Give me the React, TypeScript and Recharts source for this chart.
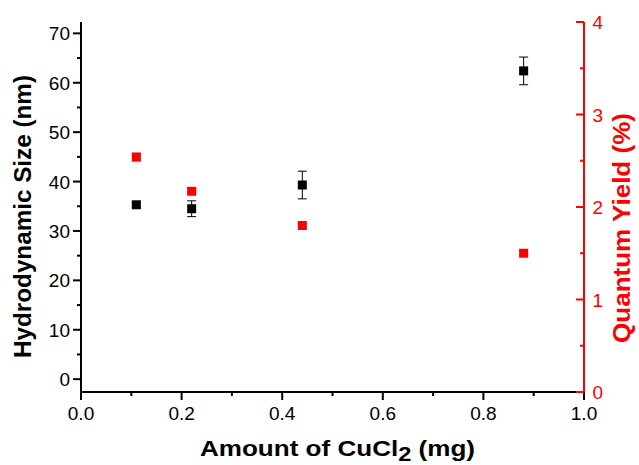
import React from "react";
import { ComposedChart, Scatter, XAxis, YAxis, ErrorBar } from "recharts";

// ---- data ----
const amounts = [0.11, 0.22, 0.44, 0.88];
const hydroSize = [35.3, 34.5, 39.3, 62.4];
const hydroErr = [0.6, 1.6, 2.8, 2.8];
const quantumYield = [2.54, 2.17, 1.8, 1.5];
const quantumErr = [0.04, 0.03, 0.02, 0.02];

const xTicks = [0, 0.1, 0.2, 0.3, 0.4, 0.5, 0.6, 0.7, 0.8, 0.9, 1.0];
const leftTicks = [0, 5, 10, 15, 20, 25, 30, 35, 40, 45, 50, 55, 60, 65, 70];
const rightTicks = [0, 0.5, 1, 1.5, 2, 2.5, 3, 3.5, 4];

const sizeData = amounts.map((x, i) => ({ x, y: hydroSize[i], err: hydroErr[i] }));
const qyData = amounts.map((x, i) => ({ x, y: quantumYield[i], err: quantumErr[i] }));

const FONT = "'Liberation Sans', Arial, sans-serif";
const RED = "#ff0000";
const TICK_FS = 19;

const isMajorX = (v: number) => Math.round(v * 10) % 2 === 0;
const isMajorLeft = (v: number) => Math.round(v) % 10 === 0;
const isMajorRight = (v: number) => Math.abs(v - Math.round(v)) < 1e-6;

function makeTick(side: "bottom" | "top" | "left" | "right") {
  return (props: any) => {
    const { x, y, payload } = props;
    const v = payload.value as number;
    if (side === "bottom") {
      const major = isMajorX(v);
      const len = major ? 8 : 4;
      return (
        <g>
          <line x1={x} y1={y} x2={x} y2={y + len} stroke="#000" strokeWidth={2} />
          {major && (
            <text x={x} y={y + 28} textAnchor="middle" fontSize={TICK_FS} fontFamily={FONT} fill="#000">
              {v.toFixed(1)}
            </text>
          )}
        </g>
      );
    }
    if (side === "top") {
      const major = isMajorX(v);
      const len = major ? 8 : 5;
      return <line x1={x} y1={y} x2={x} y2={y + len} stroke="#000" strokeWidth={2} />;
    }
    if (side === "left") {
      const major = isMajorLeft(v);
      const len = major ? 8 : 4;
      return (
        <g>
          <line x1={x - len} y1={y} x2={x} y2={y} stroke="#000" strokeWidth={2} />
          {major && (
            <text x={x - 11} y={y + 7} textAnchor="end" fontSize={TICK_FS} fontFamily={FONT} fill="#000">
              {String(v)}
            </text>
          )}
        </g>
      );
    }
    const major = isMajorRight(v);
    const len = major ? 8 : 4;
    return (
      <g>
        <line x1={x - len} y1={y} x2={x} y2={y} stroke={RED} strokeWidth={2} />
        {major && (
          <text x={x + 8.5} y={y + 7} textAnchor="start" fontSize={TICK_FS} fontFamily={FONT} fill={RED}>
            {String(v)}
          </text>
        )}
      </g>
    );
  };
}

const square = (color: string) => (props: any) => {
  const { cx, cy } = props;
  if (cx == null || cy == null) return <g />;
  return <rect x={cx - 4.5} y={cy - 4.5} width={9} height={9} fill={color} />;
};

const bottomTitle = (props: any) => {
  const vb = props.viewBox || { x: 81, y: 392, width: 503, height: 73 };
  const cx = vb.x + 256.5;
  const by = vb.y + 64;
  return (
    <text
      x={cx}
      y={by}
      textAnchor="middle"
      fontFamily={FONT}
      fontWeight="bold"
      fontSize={22}
      fill="#000"
      textLength={275}
      lengthAdjust="spacingAndGlyphs"
    >
      <tspan>Amount of CuCl</tspan>
      <tspan dy={4.5} fontSize={20}>2</tspan>
      <tspan dy={-4.5}> (mg)</tspan>
    </text>
  );
};

const leftTitle = (props: any) => {
  const vb = props.viewBox || { x: 0, y: 22, width: 81, height: 370 };
  const bx = vb.x + 31;
  const cy = vb.y + vb.height / 2 + 9.5;
  return (
    <text
      transform={`translate(${bx},${cy}) rotate(-90)`}
      x={0}
      y={0}
      textAnchor="middle"
      fontFamily={FONT}
      fontWeight="bold"
      fontSize={23}
      fill="#000"
      textLength={283}
      lengthAdjust="spacingAndGlyphs"
    >
      Hydrodynamic Size (nm)
    </text>
  );
};

const rightTitle = (props: any) => {
  const vb = props.viewBox || { x: 584, y: 22, width: 55, height: 370 };
  const bx = vb.x + 46;
  const cy = vb.y + vb.height / 2 + 21;
  return (
    <text
      transform={`translate(${bx},${cy}) rotate(-90)`}
      x={0}
      y={0}
      textAnchor="middle"
      fontFamily={FONT}
      fontWeight="bold"
      fontSize={23}
      fill={RED}
      textLength={230}
      lengthAdjust="spacingAndGlyphs"
    >
      Quantum Yield (%)
    </text>
  );
};

export default function App() {
  return (
    <div style={{ position: "absolute", left: 0, top: 0, width: 639, height: 465, background: "#fff" }}>
      <ComposedChart width={639} height={465} margin={{ top: 22, right: 0, bottom: 0, left: 0 }}>
        <XAxis
          xAxisId="top"
          orientation="top"
          type="number"
          dataKey="x"
          domain={[0, 1]}
          ticks={xTicks}
          allowDataOverflow
          height={0}
          interval={0}
          tickSize={0}
          tickMargin={0}
          tickLine={false}
          axisLine={{ stroke: "#000", strokeWidth: 2 }}
          tick={makeTick("top")}
        />
        <XAxis
          xAxisId={0}
          orientation="bottom"
          type="number"
          dataKey="x"
          domain={[0, 1]}
          ticks={xTicks}
          allowDataOverflow
          height={73}
          interval={0}
          tickSize={0}
          tickMargin={0}
          tickLine={false}
          axisLine={{ stroke: "#000", strokeWidth: 2 }}
          tick={makeTick("bottom")}
          label={bottomTitle}
        />
        <YAxis
          yAxisId="size"
          orientation="left"
          type="number"
          dataKey="y"
          domain={[-2.6, 72.3]}
          ticks={leftTicks}
          allowDataOverflow
          width={81}
          interval={0}
          tickSize={0}
          tickMargin={0}
          tickLine={false}
          axisLine={{ stroke: "#000", strokeWidth: 2 }}
          tick={makeTick("left")}
          label={leftTitle}
        />
        <YAxis
          yAxisId="qy"
          orientation="right"
          type="number"
          dataKey="y"
          domain={[0, 4]}
          ticks={rightTicks}
          allowDataOverflow
          width={55}
          interval={0}
          tickSize={0}
          tickMargin={0}
          tickLine={false}
          axisLine={{ stroke: RED, strokeWidth: 2 }}
          tick={makeTick("right")}
          label={rightTitle}
        />
        <Scatter
          name="Hydrodynamic Size"
          data={sizeData}
          xAxisId={0}
          yAxisId="size"
          dataKey="y"
          fill="#000"
          shape={square("#000")}
          isAnimationActive={false}
        >
          <ErrorBar dataKey="err" direction="y" width={4.5} stroke="#000" strokeWidth={1} isAnimationActive={false} />
        </Scatter>
        <Scatter
          name="Quantum Yield"
          data={qyData}
          xAxisId={0}
          yAxisId="qy"
          dataKey="y"
          fill={RED}
          shape={square(RED)}
          isAnimationActive={false}
        >
          <ErrorBar dataKey="err" direction="y" width={4.5} stroke={RED} strokeWidth={1} isAnimationActive={false} />
        </Scatter>
      </ComposedChart>
    </div>
  );
}
